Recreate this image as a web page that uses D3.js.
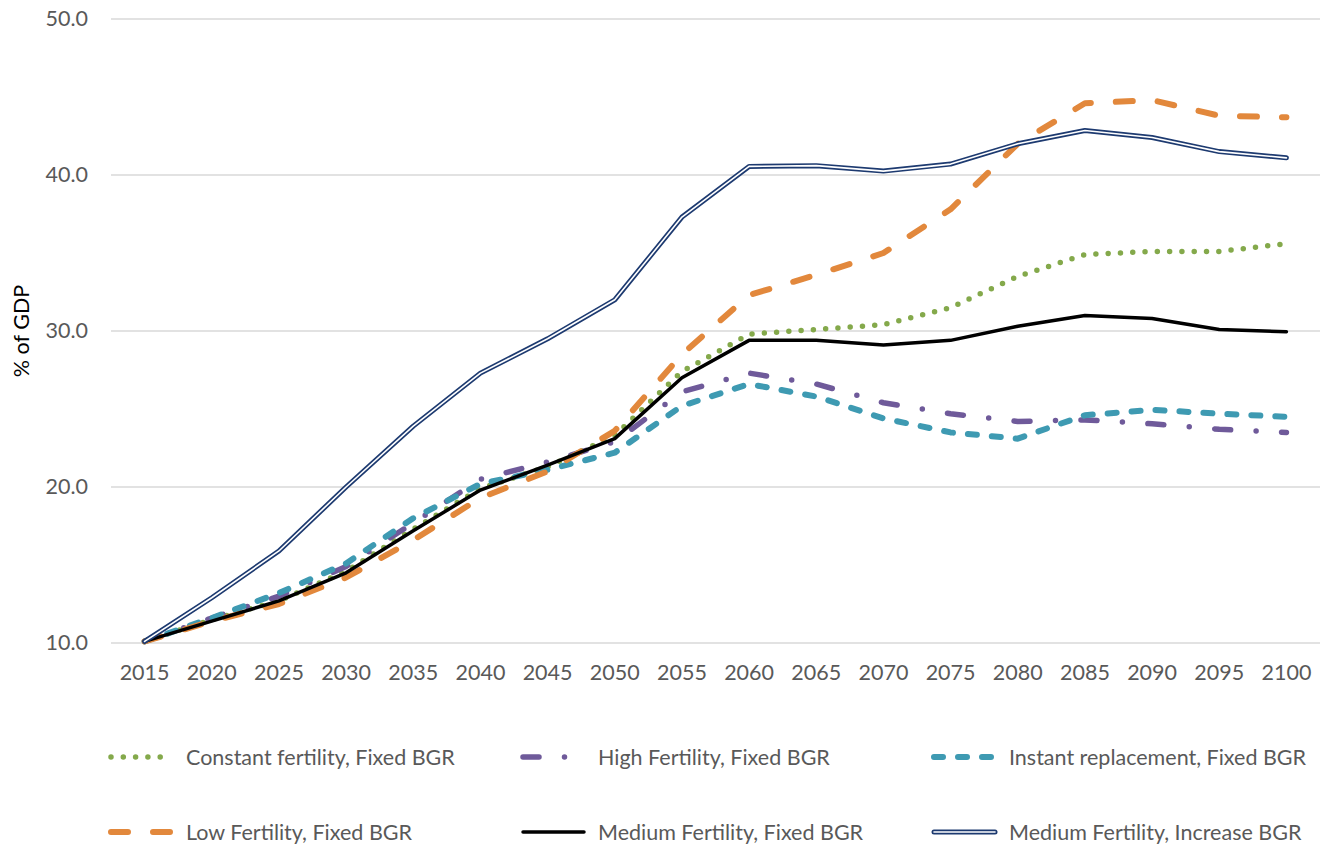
<!DOCTYPE html>
<html>
<head>
<meta charset="utf-8">
<script src="https://cdn.jsdelivr.net/npm/d3@7"></script>
<style>
  html, body { margin: 0; padding: 0; background: #fff; }
  svg { display: block; }
  text { font-family: Lato, "Open Sans", "Liberation Sans", sans-serif; }
</style>
</head>
<body>
<svg id="chart" width="1324" height="845"></svg>
<script>
const years = [2015,2020,2025,2030,2035,2040,2045,2050,2055,2060,2065,2070,2075,2080,2085,2090,2095,2100];
const constantFixed = [10.1,11.5,12.7,14.6,17.3,19.9,21.3,23.3,27.4,29.8,30.1,30.4,31.5,33.5,34.9,35.1,35.1,35.6];
const highFixed     = [10.1,11.6,13.0,14.9,17.7,20.5,21.6,22.9,26.1,27.3,26.6,25.4,24.7,24.2,24.3,24.05,23.7,23.5];
const instantFixed  = [10.1,11.6,13.2,15.1,18.0,20.2,21.1,22.2,25.2,26.6,25.8,24.4,23.5,23.1,24.6,24.95,24.7,24.5];
const lowFixed      = [10.1,11.4,12.5,14.2,16.6,19.3,21.0,23.6,28.5,32.3,33.6,35.0,37.8,42.0,44.6,44.8,43.8,43.7];
const mediumFixed   = [10.1,11.4,12.7,14.5,17.2,19.8,21.4,23.1,27.0,29.4,29.4,29.1,29.4,30.3,31.0,30.8,30.1,29.95];
const mediumIncrease= [10.1,12.9,15.9,20.0,23.9,27.3,29.5,32.0,37.3,40.55,40.6,40.25,40.7,42.0,42.85,42.4,41.5,41.1];
const yTicks = [10,20,30,40,50];
const yTitle = "% of GDP";

const series = [
  {name:"Constant fertility, Fixed BGR", values:constantFixed, color:"#84A94B", width:5.5, dash:"0 12.3", cap:"round"},
  {name:"High Fertility, Fixed BGR", values:highFixed, color:"#6F5A9A", width:5.5, dash:"16 25.5 0 25.5", cap:"round"},
  {name:"Instant replacement, Fixed BGR", values:instantFixed, color:"#3E9AB2", width:6, dash:"9 15", cap:"round"},
  {name:"Low Fertility, Fixed BGR", values:lowFixed, color:"#E2883C", width:6, dash:"17 25", cap:"round"},
  {name:"Medium Fertility, Fixed BGR", values:mediumFixed, color:"#000000", width:3.5, dash:null, cap:"round"},
  {name:"Medium Fertility, Increase BGR", values:mediumIncrease, color:"#1D3A70", width:5, dash:null, cap:"round", double:true}
];

const FS = "21.5px";
const svg = d3.select("#chart");
const x = d3.scaleBand().domain(years).range([111, 1320]);
const y = d3.scaleLinear().domain([10, 50]).range([643, 19]);
const cx = d => x(d) + x.bandwidth() / 2;

// gridlines
svg.append("g").selectAll("line").data(yTicks).join("line")
  .attr("x1", 111).attr("x2", 1320)
  .attr("y1", d => y(d)).attr("y2", d => y(d))
  .attr("stroke", "#D9D9D9").attr("stroke-width", 1.3);

// y axis labels
const yAxis = svg.append("g").attr("transform", "translate(96,0)")
  .call(d3.axisLeft(y).tickValues(yTicks).tickFormat(d3.format(".1f")).tickSize(0).tickPadding(8));
yAxis.select(".domain").remove();
yAxis.selectAll("text").attr("fill", "#595959").style("font-size", FS).style("font-family", "Lato, sans-serif");

// x axis labels
const xAxis = svg.append("g").attr("transform", "translate(0,643)")
  .call(d3.axisBottom(x).tickSize(0).tickPadding(22));
xAxis.select(".domain").remove();
xAxis.selectAll("text").attr("fill", "#595959").style("font-size", FS).style("font-family", "Lato, sans-serif");

// y title
svg.append("text")
  .attr("transform", "translate(29,331) rotate(-90)")
  .attr("text-anchor", "middle")
  .attr("fill", "#000")
  .style("font-size", FS)
  .text(yTitle);

const line = d3.line().x((d, i) => cx(years[i])).y(d => y(d));

series.forEach(s => {
  const p = svg.append("path").datum(s.values)
    .attr("d", line).attr("fill", "none")
    .attr("stroke", s.color).attr("stroke-width", s.width)
    .attr("stroke-linejoin", "round").attr("stroke-linecap", s.cap);
  if (s.dash) p.attr("stroke-dasharray", s.dash);
  if (s.double) {
    svg.append("path").datum(s.values)
      .attr("d", line).attr("fill", "none")
      .attr("stroke", "#fff").attr("stroke-width", 1.6)
      .attr("stroke-linejoin", "round").attr("stroke-linecap", "round");
  }
});

// legend
const legendCols = [108, 520, 931];
const legendRows = [757, 832];
series.forEach((s, i) => {
  const lx = legendCols[i % 3], ly = legendRows[Math.floor(i / 3)];
  const g = svg.append("g");
  const ln = g.append("line").attr("x1", lx + 3).attr("x2", lx + 64).attr("y1", ly).attr("y2", ly)
    .attr("stroke", s.color).attr("stroke-width", s.width).attr("stroke-linecap", s.cap);
  if (s.dash) ln.attr("stroke-dasharray", s.dash);
  if (s.double) {
    g.append("line").attr("x1", lx + 3).attr("x2", lx + 64).attr("y1", ly).attr("y2", ly)
      .attr("stroke", "#fff").attr("stroke-width", 1.6).attr("stroke-linecap", "round");
  }
  g.append("text").attr("x", lx + 78).attr("y", ly).attr("dy", "0.35em")
    .attr("fill", "#595959").style("font-size", FS).text(s.name);
});
</script>
</body>
</html>
